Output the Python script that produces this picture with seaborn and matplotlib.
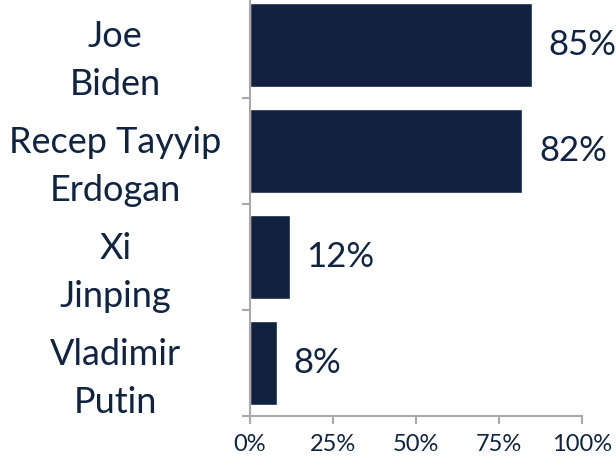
import matplotlib
matplotlib.use("Agg")
import matplotlib.pyplot as plt
import seaborn as sns
import pandas as pd

leaders = ["Joe\nBiden", "Recep Tayyip\nErdogan", "Xi\nJinping", "Vladimir\nPutin"]
values = [85, 82, 12, 8]
xticks = [0, 25, 50, 75, 100]
xticklabels = ["0%", "25%", "50%", "75%", "100%"]

NAVY = "#10223f"
TEXT = "#0f2442"
GRAY = "#a8a8ae"

sns.set_style("white")
plt.rcParams["font.family"] = ["Lato", "DejaVu Sans"]

df = pd.DataFrame({"leader": leaders, "value": values})

fig = plt.figure(figsize=(6.16, 4.73), dpi=100)
ax = fig.add_axes([250 / 616, 1 - 416 / 473, 332 / 616, 424 / 473])

sns.barplot(data=df, x="value", y="leader", order=leaders, color=NAVY,
            saturation=1, width=0.79, orient="h", ax=ax)

ax.set_xlim(0, 100)
ax.set_ylim(3.5, -0.5)
ax.set_xlabel("")
ax.set_ylabel("")

for spine in ["top", "right"]:
    ax.spines[spine].set_visible(False)
for spine in ["left", "bottom"]:
    ax.spines[spine].set_color(GRAY)
    ax.spines[spine].set_linewidth(1.5)

ax.set_xticks(xticks)
ax.set_xticklabels(xticklabels)
ax.tick_params(axis="x", length=6, width=1.5, color=GRAY, labelcolor=TEXT,
               labelsize=17, pad=7, direction="out", bottom=True)

# category labels: centred two-line text to the left of the axis
ax.set_yticks(range(len(leaders)))
ax.set_yticklabels([""] * len(leaders))
ax.set_yticks([-0.5, 0.5, 1.5, 2.5, 3.5], minor=True)
ax.tick_params(axis="y", which="major", length=0)
ax.tick_params(axis="y", which="minor", length=6, width=1.5, color=GRAY,
               direction="out", left=True)
for i, name in enumerate(leaders):
    ax.annotate(name, xy=(0, i), xycoords=("axes fraction", "data"),
                xytext=(-97, -11), textcoords="offset points",
                ha="center", va="center", multialignment="center",
                linespacing=1.55, fontsize=26, color=TEXT,
                annotation_clip=False)

for i, v in enumerate(values):
    ax.annotate(f"{v}%", xy=(v, i), xytext=(12, 0), textcoords="offset points",
                ha="left", va="center", fontsize=25, color=TEXT,
                annotation_clip=False)

fig.savefig("out.png", dpi=100)
